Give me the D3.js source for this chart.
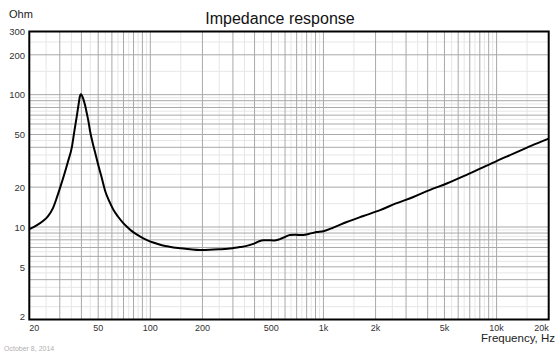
<!DOCTYPE html>
<html>
<head>
<meta charset="utf-8">
<script src="https://cdn.jsdelivr.net/npm/d3@7"></script>
<style>
  body { margin: 0; background: #fff; }
  text { font-family: "Liberation Sans", Arial, sans-serif; }
</style>
</head>
<body>
<svg id="viz" width="560" height="354"></svg>
<script>
const svg = d3.select("#viz");
const width = +svg.attr("width");
const height = +svg.attr("height");

// impedance curve (Hz, Ohm)
const freqs = [20, 21.8, 24, 25.6, 27.4, 28.9, 30.2, 31.7, 33.4, 35.3, 36.4, 37.6, 38.6, 39.15, 39.6,
  40.2, 41, 42, 43, 44, 45, 46.5, 48, 50, 52, 54.8, 58, 61.2, 65, 69, 73, 80, 87, 95,
  105, 114, 125, 136, 150, 170, 194, 220, 250, 280, 301, 330, 360, 393, 420, 450, 480,
  520, 560, 600, 640, 680, 720, 766, 830, 914, 1000, 1141, 1364, 1700, 2124, 2600, 3305,
  4100, 5154, 6500, 8030, 10000, 12510, 15800, 20000];
const ohms = [9.65, 10.2, 11.1, 12.05, 13.9, 16.8, 20, 24.5, 31, 40.7, 52.8, 68.6, 86, 96.3, 100.5,
  99, 93, 83, 72, 62, 52, 43, 36.5, 29.5, 24.5, 18.8, 15.6, 13.5, 12, 10.9, 10.1, 9.1, 8.5, 8.0,
  7.6, 7.35, 7.15, 7.0, 6.9, 6.78, 6.7, 6.72, 6.78, 6.85, 6.93, 7.05, 7.2, 7.45, 7.75, 7.95, 7.95,
  7.9, 8.1, 8.4, 8.7, 8.75, 8.7, 8.7, 8.9, 9.15, 9.3, 9.9, 10.9, 12.1, 13.4, 15, 16.85,
  19, 21.3, 24.3, 27.6, 31.5, 35.8, 41, 46.5];

const xTicks = [20, 50, 100, 200, 500, 1000, 2000, 5000, 10000, 20000];
const xTickLabels = ["20", "50", "100", "200", "500", "1k", "2k", "5k", "10k", "20k"];
const yTicks = [2, 5, 10, 20, 50, 100, 200, 300];
const gridSteps = d3.range(1, 10, 0.5);   // 1, 1.5, 2 ... 9.5 in each decade

const plot = { left: 29.3, right: 548.7, top: 31.5, bottom: 319.5 };

const x = d3.scaleLog().domain([20, 20000]).range([plot.left, plot.right]);
const y = d3.scaleLog().domain([2, 300]).range([plot.bottom, plot.top]);

function gridValues(lo, hi) {
  const out = [];
  for (let b = 1; b <= 10000; b *= 10) {
    gridSteps.forEach(k => {
      const v = k * b;
      if (v > lo * 1.0001 && v < hi * 0.9999) out.push({ v, major: k % 1 === 0 });
    });
  }
  return out;
}

const grid = svg.append("g");
const xg = gridValues(20, 20000);
const yg = gridValues(2, 300);

// light lines first, darker on top
[false, true].forEach(major => {
  grid.selectAll(null)
    .data(xg.filter(d => d.major === major))
    .join("line")
    .attr("x1", d => x(d.v)).attr("x2", d => x(d.v))
    .attr("y1", plot.top).attr("y2", plot.bottom)
    .attr("stroke", major ? "#a9a9a9" : "#e6e6e6")
    .attr("stroke-width", 1);
  grid.selectAll(null)
    .data(yg.filter(d => d.major === major))
    .join("line")
    .attr("x1", plot.left).attr("x2", plot.right)
    .attr("y1", d => y(d.v)).attr("y2", d => y(d.v))
    .attr("stroke", major ? "#a9a9a9" : "#e6e6e6")
    .attr("stroke-width", 1);
});

const line = d3.line()
  .x(d => x(d[0]))
  .y(d => y(d[1]))
  .curve(d3.curveMonotoneX);

svg.append("path")
  .datum(freqs.map((f, i) => [f, ohms[i]]))
  .attr("fill", "none")
  .attr("stroke", "#000")
  .attr("stroke-width", 2)
  .attr("stroke-linejoin", "round")
  .attr("d", line);

svg.append("rect")
  .attr("x", plot.left)
  .attr("y", plot.top)
  .attr("width", plot.right - plot.left)
  .attr("height", plot.bottom - plot.top)
  .attr("fill", "none")
  .attr("stroke", "#000")
  .attr("stroke-width", 2);

// y tick labels
svg.append("g").selectAll("text")
  .data(yTicks)
  .join("text")
  .attr("x", 25)
  .attr("y", d => Math.min(y(d) + 0.5, plot.bottom - 3))
  .attr("dy", "0.35em")
  .attr("text-anchor", "end")
  .attr("font-size", "9.5px")
  .attr("fill", "#333")
  .text(d => d);

// x tick labels
svg.append("g").selectAll("text")
  .data(xTicks)
  .join("text")
  .attr("x", d => x(d))
  .attr("y", 331)
  .attr("text-anchor", (d, i) => i === 0 ? "start" : i === xTicks.length - 1 ? "end" : "middle")
  .attr("font-size", "9px")
  .attr("fill", "#333")
  .text((d, i) => xTickLabels[i]);

svg.append("text")
  .attr("x", 280).attr("y", 23.5)
  .attr("text-anchor", "middle")
  .attr("font-size", "16px")
  .attr("fill", "#111")
  .text("Impedance response");

svg.append("text")
  .attr("x", 9).attr("y", 17.5)
  .attr("font-size", "11px")
  .attr("fill", "#222")
  .text("Ohm");

svg.append("text")
  .attr("x", 555).attr("y", 342)
  .attr("text-anchor", "end")
  .attr("font-size", "11.5px")
  .attr("fill", "#222")
  .text("Frequency, Hz");

svg.append("text")
  .attr("x", 4).attr("y", 351)
  .attr("font-size", "7px")
  .attr("fill", "#b0b0b0")
  .text("October 8, 2014");
</script>
</body>
</html>
